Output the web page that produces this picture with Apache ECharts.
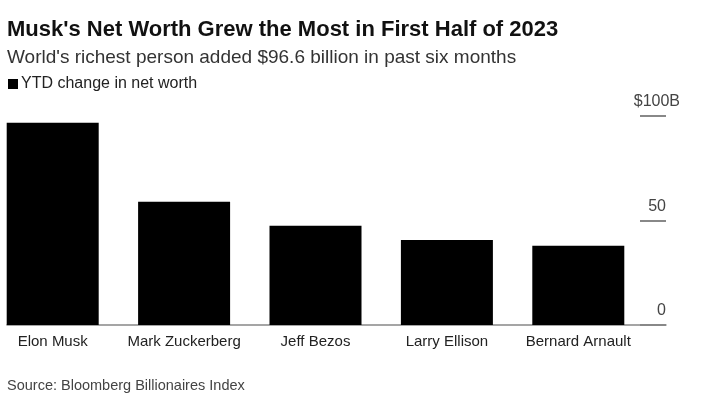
<!DOCTYPE html>
<html>
<head>
<meta charset="utf-8">
<script src="https://cdn.jsdelivr.net/npm/echarts@6/dist/echarts.min.js"></script>
<style>
html,body{margin:0;padding:0;background:#fff;}
#chart{width:720px;height:394px;}
</style>
</head>
<body>
<div id="chart"></div>
<script>
const categories = ['Elon Musk', 'Mark Zuckerberg', 'Jeff Bezos', 'Larry Ellison', 'Bernard Arnault'];
const ytdChange = [96.6, 58.9, 47.4, 40.6, 37.9];
const yTicks = [0, 50, 100];
const seriesName = 'YTD change in net worth';

const FONT = '"Liberation Sans", Arial, sans-serif';
const chart = echarts.init(document.getElementById('chart'), null, {renderer: 'canvas'});

chart.setOption({
  animation: false,
  backgroundColor: '#ffffff',
  title: [
    {text: "Musk's Net Worth Grew the Most in First Half of 2023", left: 2, top: 14,
     textStyle: {fontFamily: FONT, fontSize: 22, fontWeight: 'bold', color: '#111'}},
    {text: "World's richest person added $96.6 billion in past six months", left: 2, top: 43,
     textStyle: {fontFamily: FONT, fontSize: 19, fontWeight: 'normal', color: '#333'}},
    {text: 'Source: Bloomberg Billionaires Index', left: 2, top: 373,
     textStyle: {fontFamily: FONT, fontSize: 14.5, fontWeight: 'normal', color: '#444'}}
  ],
  legend: {
    data: [seriesName], left: 3, top: 71, icon: 'rect', itemWidth: 10, itemHeight: 10, itemGap: 5,
    textStyle: {fontFamily: FONT, fontSize: 16, color: '#222', padding: [0, 0, 0, -2]}
  },
  grid: [
    {left: 52.7, right: 141.7, top: 115.7, bottom: 69, containLabel: false},
    {left: 7, right: 54, top: 115.7, bottom: 69, containLabel: false}
  ],
  xAxis: [
    {type: 'category', data: categories, gridIndex: 0, boundaryGap: false,
     axisLine: {show: false}, axisTick: {show: false},
     axisLabel: {fontFamily: FONT, fontSize: 15, color: '#222', margin: 9, interval: 0}},
    {type: 'value', gridIndex: 1, min: 0, max: 1,
     axisLine: {show: true, lineStyle: {color: '#888', width: 1.5}},
     axisTick: {show: false}, axisLabel: {show: false}, splitLine: {show: false}}
  ],
  yAxis: [
    {type: 'value', gridIndex: 0, position: 'right', offset: 87.7, min: 0, max: 100, interval: 50,
     axisLine: {show: false},
     axisTick: {show: true, inside: true, length: 26, lineStyle: {color: '#888', width: 2}},
     splitLine: {show: false},
     axisLabel: {
       fontFamily: FONT, fontSize: 16, color: '#444', align: 'right', margin: 14,
       verticalAlign: 'bottom', padding: [0, 0, 6, 0],
       formatter: function (v) { return v === yTicks[2] ? '$' + v + 'B' : v + '{p|}'; },
       rich: {p: {width: 14}}
     }},
    {type: 'value', gridIndex: 1, min: 0, max: 100, show: false}
  ],
  series: [
    {name: seriesName, type: 'bar', xAxisIndex: 0, yAxisIndex: 0, data: ytdChange, barWidth: 92,
     clip: false, itemStyle: {color: '#000000'}}
  ]
});
</script>
</body>
</html>
